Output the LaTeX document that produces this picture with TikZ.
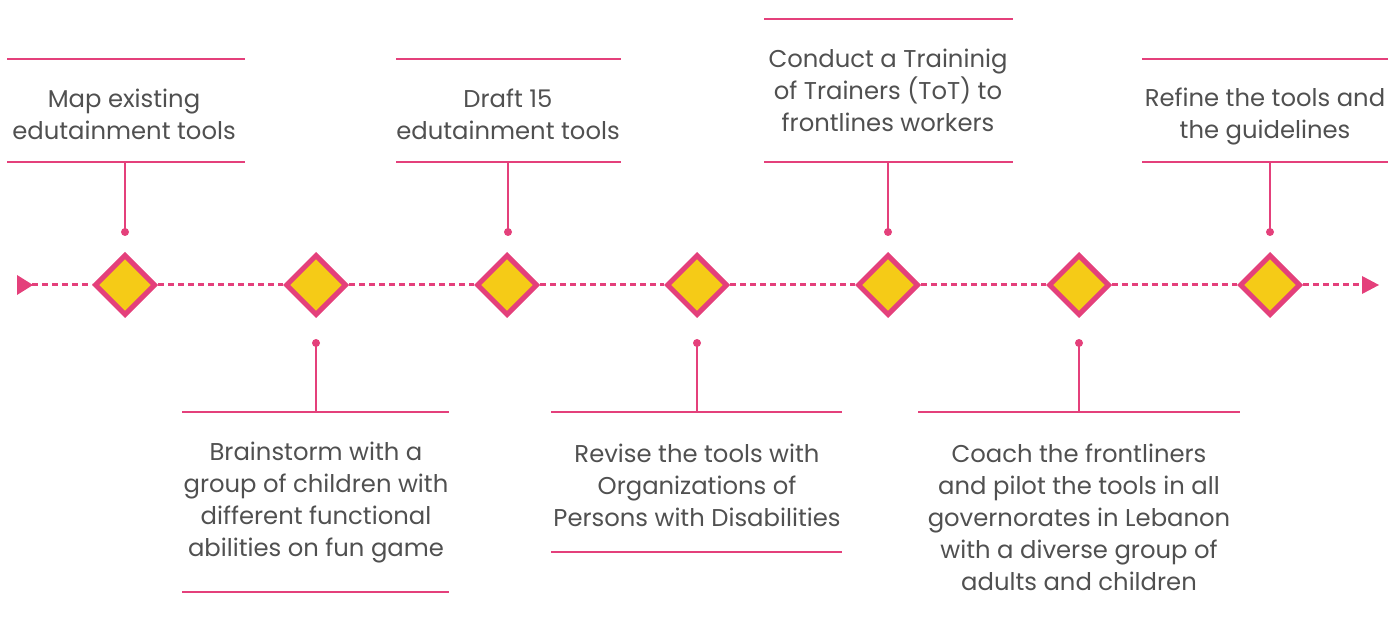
\documentclass[tikz,border=0pt]{standalone}
\usepackage{fontspec}
\setmainfont{Poppins}
\usetikzlibrary{shapes.geometric}
\definecolor{pink}{HTML}{E4407B}
\definecolor{gold}{HTML}{F5CB17}
\definecolor{txt}{HTML}{505050}
\begin{document}
\begin{tikzpicture}[x=1pt,y=-1pt,
  dia/.style={shape=diamond,draw=pink,fill=gold,line width=5pt,inner sep=0pt,minimum width=61pt,minimum height=61pt},
  dotn/.style={circle,fill=pink,inner sep=0pt,minimum size=8pt},
  rule/.style={draw=pink,line width=2.5pt},
  stem/.style={draw=pink,line width=2.5pt},
  axis/.style={draw=pink,line width=3pt,dash pattern=on 6pt off 4pt},
  lbl/.style={text=txt,align=center,font=\fontsize{24.3}{32}\selectfont,inner sep=0pt},
  tri/.style={fill=pink}]
\useasboundingbox (0,0) rectangle (1392,617);
% diamonds
\foreach \i/\x in {1/125,2/316,3/507,4/697,5/888,6/1079,7/1270}{
  \node[dia] (d\i) at (\x,285) {};
}
% axis
\coordinate (s) at (32,285);
\coordinate (e) at (1362,285);
\draw[axis] (s) -- (d1.west);
\draw[axis] (d1.east) -- (d2.west);
\draw[axis] (d2.east) -- (d3.west);
\draw[axis] (d3.east) -- (d4.west);
\draw[axis] (d4.east) -- (d5.west);
\draw[axis] (d5.east) -- (d6.west);
\draw[axis] (d6.east) -- (d7.west);
\draw[axis] (d7.east) -- (e);
\fill[tri] (17,275) -- (33,285) -- (17,295) -- cycle;
\fill[tri] (1362,276) -- (1379,285) -- (1362,294) -- cycle;
% top callouts
\foreach \n/\x/\a/\b/\t in {a/125/7/245/59,c/508/396/621/59,e/888/764/1013/19,g/1270/1142/1388/59}{
  \draw[rule] (\a,\t) -- (\b,\t);
  \draw[rule] (\a,162) -- (\b,162);
  \coordinate (top\n) at (\x,162);
  \node[dotn] (dot\n) at (\x,232) {};
  \draw[stem] (top\n) -- (dot\n.center);
}
\node[lbl] (ta) at (124,114) {Map existing\\edutainment tools};
\node[lbl] (tc) at (508,114) {Draft 15\\edutainment tools};
\node[lbl] (te) at (888,90) {Conduct a Traininig\\of Trainers (ToT) to\\frontlines workers};
\node[lbl] (tg) at (1265,117) {Refine the tools and\\the guidelines};
% bottom callouts
\foreach \n/\x/\a/\b in {b/316/182/449,d/697/551/842,f/1079/918/1240}{
  \draw[rule] (\a,412) -- (\b,412);
  \coordinate (bot\n) at (\x,412);
  \node[dotn] (dot\n) at (\x,343) {};
  \draw[stem] (bot\n) -- (dot\n.center);
}
\draw[rule] (182,592) -- (449,592);
\draw[rule] (551,552) -- (842,552);
\node[lbl] (tb) at (316,503) {Brainstorm with a\\group of children with\\different functional\\abilities on fun game};
\node[lbl] (td) at (697,485) {Revise the tools with\\Organizations of\\Persons with Disabilities};
\node[lbl] (tf) at (1079,517) {Coach the frontliners\\and pilot the tools in all\\governorates in Lebanon\\with a diverse group of\\adults and children};
\end{tikzpicture}
\end{document}
